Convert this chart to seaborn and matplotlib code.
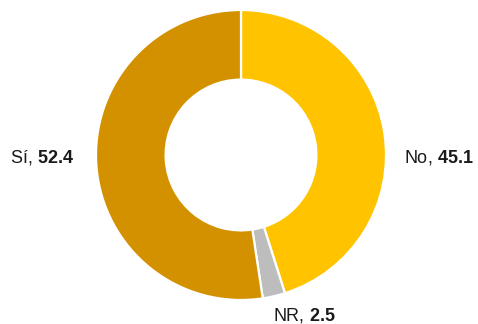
import matplotlib
matplotlib.use("Agg")
import matplotlib.pyplot as plt
import seaborn as sns

# Survey answers (percent)
categories = ["No", "NR", "Sí"]
values = [45.1, 2.5, 52.4]
colors = ["#FFC300", "#BDBDBD", "#D39100"]

sns.set_theme(style="white")
plt.rcParams["font.family"] = ["Liberation Sans", "DejaVu Sans"]
plt.rcParams["mathtext.fontset"] = "custom"
plt.rcParams["mathtext.rm"] = "Liberation Sans"
plt.rcParams["mathtext.bf"] = "Liberation Sans:bold"

W, H = 478, 324
fig = plt.figure(figsize=(W / 100, H / 100), dpi=100)
cx, cy, r = 241, 155, 145
ax = fig.add_axes([(cx - r) / W, (H - cy - r) / H, 2 * r / W, 2 * r / H])

ax.pie(values, colors=colors, startangle=90, counterclock=False, radius=1,
       wedgeprops=dict(width=0.48, edgecolor="white", linewidth=1.6))
ax.set_xlim(-1, 1)
ax.set_ylim(-1, 1)
ax.set_aspect("equal")
ax.axis("off")

label_pos = {
    "No": (1.124, -0.02, "left"),
    "NR": (0.221, -1.105, "left"),
    "Sí": (-1.152, -0.02, "right"),
}
for cat, val in zip(categories, values):
    x, y, ha = label_pos[cat]
    ax.text(x, y, f"{cat}, " + r"$\mathbf{" + f"{val}" + "}$", ha=ha, va="center",
            fontsize=13, color="#1a1a1a", clip_on=False)

fig.savefig("out.png", dpi=100, facecolor="white")
